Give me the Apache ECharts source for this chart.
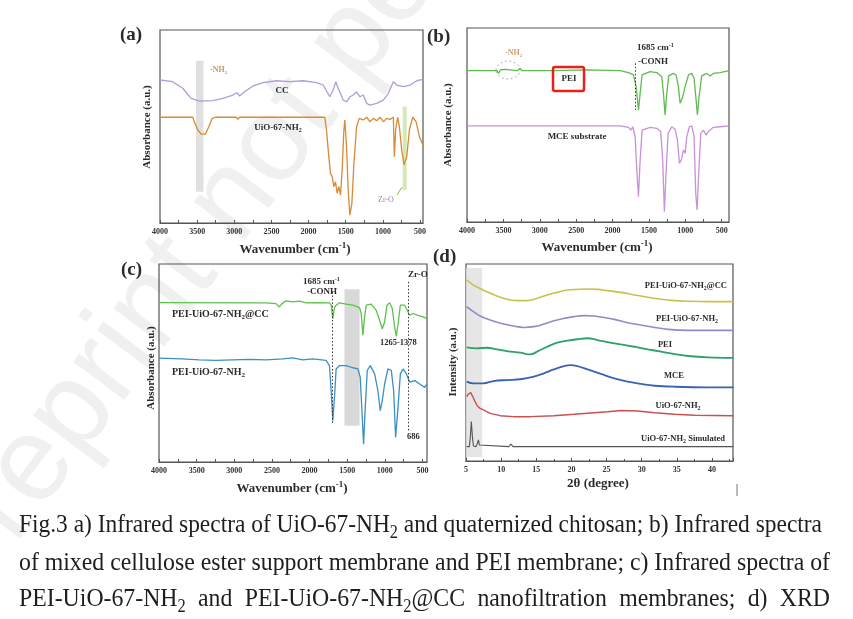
<!DOCTYPE html>
<html>
<head>
<meta charset="utf-8">
<script src="https://cdn.jsdelivr.net/npm/echarts@6/dist/echarts.min.js"></script>
<style>
  html, body { margin: 0; padding: 0; background: #fff; }
  #main { width: 853px; height: 619px; }
</style>
</head>
<body>
<div id="main"></div>
<script>
// ---- data (wavenumber / 2theta, relative intensity) ----
var ccA = [[4000,74.1],[3829,73.2],[3694,69.8],[3582,64.6],[3469,63.2],[3289,63.4],[3154,64.6],[3019,66.3],[2965,67.5],[2929,65.8],[2862,68.0],[2749,71.0],[2614,72.7],[2434,73.7],[2254,73.2],[2074,73.7],[1894,72.7],[1804,71.5],[1714,65.4],[1669,68.9],[1633,73.2],[1602,69.8],[1534,63.7],[1489,62.8],[1444,65.4],[1399,66.3],[1354,68.0],[1309,65.4],[1264,66.3],[1219,62.0],[1174,61.1],[1084,62.0],[994,63.7],[926,67.2],[859,73.2],[814,71.5],[724,70.6],[634,71.5],[544,73.7],[462,74.4]];
var uioA = [[4000,54.8],[3559,54.8],[3537,52.5],[3492,48.2],[3447,46.1],[3388,46.1],[3343,49.9],[3298,54.2],[3244,54.8],[2974,54.8],[2952,53.7],[2929,54.8],[1782,54.8],[1759,48.2],[1728,34.4],[1705,25.7],[1683,24.0],[1660,18.8],[1638,21.4],[1615,15.4],[1593,18.8],[1570,14.5],[1548,27.5],[1525,48.2],[1512,53.4],[1489,39.5],[1467,17.1],[1444,4.1],[1417,10.2],[1390,30.9],[1354,49.9],[1318,54.2],[1264,53.4],[1219,54.8],[1174,52.5],[1129,54.2],[1084,53.0],[1039,54.8],[994,52.5],[949,54.2],[904,53.7],[859,54.8],[846,34.4],[828,48.2],[801,54.8],[778,49.9],[747,37.8],[715,30.1],[679,34.4],[643,48.2],[598,54.8],[553,52.5],[508,44.7],[462,40.4]];

var peiB = [[4000,78.0],[3588,78.0],[3565,76.6],[3543,78.4],[3474,78.7],[3314,78.0],[3268,79.2],[3245,78.0],[2811,78.0],[2353,78.4],[1896,78.0],[1781,77.0],[1713,75.8],[1676,69.8],[1644,57.7],[1621,66.3],[1594,75.8],[1484,77.5],[1392,77.0],[1324,74.9],[1301,66.3],[1278,55.2],[1255,66.3],[1228,75.3],[1164,76.6],[1127,75.8],[1095,69.8],[1072,61.2],[1035,64.6],[1003,69.8],[957,75.8],[912,76.6],[880,74.1],[852,62.9],[834,55.2],[811,64.6],[775,75.3],[706,76.6],[660,75.3],[615,76.6],[523,77.0],[400,78.0]];
var mceB = [[4000,49.5],[2811,49.5],[1896,49.5],[1781,48.8],[1749,47.4],[1722,49.1],[1690,44.0],[1667,26.8],[1644,13.1],[1621,32.0],[1594,47.4],[1484,48.8],[1392,48.3],[1338,46.6],[1311,32.0],[1288,5.3],[1265,25.1],[1237,45.7],[1187,49.1],[1141,47.8],[1109,42.3],[1081,30.2],[1054,32.0],[1026,37.1],[1003,35.4],[980,44.0],[944,49.1],[912,49.5],[880,44.0],[857,14.8],[839,6.2],[816,25.1],[788,45.7],[752,47.4],[715,44.8],[683,46.6],[615,48.8],[523,49.1],[400,49.5]];

var peiCcC = [[4000,80.5],[2579,80.4],[2446,80.0],[2402,78.3],[2366,80.0],[2313,81.4],[2224,80.9],[2135,81.2],[2046,80.4],[1913,80.5],[1736,80.4],[1713,79.2],[1691,72.4],[1669,78.0],[1647,79.2],[1602,80.4],[1514,79.7],[1425,79.2],[1336,78.0],[1314,75.0],[1292,64.0],[1269,73.3],[1247,79.2],[1181,79.7],[1114,76.6],[1070,71.6],[1034,67.3],[1003,70.7],[972,79.2],[936,80.4],[901,77.5],[870,68.2],[848,63.5],[821,70.7],[794,79.2],[737,79.2],[670,74.1],[626,75.0],[559,74.1],[492,73.3],[440,72.4]];
var peiUioC = [[4000,52.5],[3689,52.1],[3467,51.6],[3245,51.3],[3023,51.6],[2801,51.8],[2579,51.6],[2357,52.1],[2224,52.6],[2091,51.6],[1958,52.1],[1780,51.3],[1736,48.7],[1713,36.0],[1691,20.8],[1669,32.7],[1647,47.0],[1602,48.7],[1514,48.7],[1425,47.6],[1358,47.0],[1327,42.8],[1300,22.5],[1283,9.0],[1260,27.6],[1234,46.2],[1194,48.7],[1136,44.5],[1092,36.0],[1061,25.9],[1034,31.0],[1003,39.4],[959,47.0],[914,46.2],[883,36.0],[857,12.4],[825,27.6],[794,44.5],[759,47.0],[714,44.5],[670,40.3],[603,41.1],[537,39.4],[470,37.7],[440,39.4]];

var xrdPeiUioCc = [[5.1,91.9],[6.05,89.3],[7.01,87.6],[7.96,85.9],[9.39,83.8],[10.83,82.1],[12.26,81.4],[13.69,81.4],[15.12,82.6],[16.56,84.3],[17.99,85.6],[19.42,86.8],[20.85,87.1],[22.29,87.3],[23.72,87.1],[25.15,86.5],[27.06,85.6],[28.97,84.3],[30.88,83.1],[32.79,82.1],[34.7,81.4],[36.61,81.1],[39.48,80.9],[43.06,80.9]];
var xrdPeiUio = [[5.1,78.3],[6.05,75.8],[7.01,73.6],[8.44,71.6],[10.35,69.5],[11.78,68.5],[13.21,67.8],[14.65,68.2],[16.08,69.5],[17.51,71.2],[18.94,72.4],[20.38,73.3],[21.81,73.8],[23.24,73.6],[24.68,72.8],[26.11,71.9],[28.02,70.2],[29.93,69.0],[31.84,67.8],[33.75,66.8],[36.61,66.3],[43.06,66.3]];
var xrdPei = [[5.1,57.7],[6.53,57.2],[7.96,57.5],[9.39,56.7],[10.83,55.8],[12.74,55.0],[14.17,54.1],[15.12,55.5],[16.56,58.0],[17.99,60.1],[19.42,61.1],[20.85,61.8],[22.29,62.3],[23.72,61.4],[25.15,60.4],[27.06,59.2],[28.97,58.0],[30.88,56.7],[32.79,55.5],[34.7,54.3],[36.61,53.3],[39.48,52.6],[43.06,52.3]];
var xrdMce = [[5.1,40.3],[6.05,39.4],[7.48,39.4],[8.92,40.6],[10.83,41.1],[12.74,41.5],[14.65,42.8],[16.08,44.5],[17.51,46.5],[18.94,48.2],[19.9,48.7],[20.85,48.2],[22.29,46.5],[24.2,44.2],[26.11,42.0],[28.02,40.3],[29.93,39.1],[31.84,38.2],[34.7,37.7],[39.48,37.4],[43.06,37.4]];
var xrdUio = [[5.1,32.7],[5.33,34.0],[5.67,34.7],[5.96,32.7],[6.29,30.1],[6.62,27.9],[6.81,28.4],[7.01,26.7],[7.48,25.9],[8.44,24.2],[9.87,23.0],[11.78,22.5],[14.17,22.5],[17.51,23.0],[20.38,23.7],[23.24,24.5],[25.15,25.0],[27.06,25.6],[29.45,25.4],[31.84,24.5],[34.7,23.7],[37.57,23.2],[43.06,23.0]];
var xrdSim = [[5.1,7.3],[5.48,7.3],[5.62,12.4],[5.76,20.0],[5.91,12.4],[6.05,7.6],[6.43,7.3],[6.62,9.0],[6.77,10.7],[6.91,8.1],[7.1,7.3],[11.07,7.3],[11.4,8.6],[11.69,7.3],[43.06,7.3]];

var wnLabels = [4000, 3500, 3000, 2500, 2000, 1500, 1000, 500];
var wnTicks = [4000, 3750, 3500, 3250, 3000, 2750, 2500, 2250, 2000, 1750, 1500, 1250, 1000, 750, 500];

var captionLines = [
    'Fig.3 a) Infrared spectra of UiO-67-NH_2 and quaternized chitosan; b) Infrared spectra',
    'of mixed cellulose ester support membrane and PEI membrane; c) Infrared spectra of',
    'PEI-UiO-67-NH_2 and PEI-UiO-67-NH_2@CC nanofiltration membranes; d) XRD'
];

// ---- helpers ----
var SERIF = '"Liberation Serif", "Times New Roman", serif';
var ctx = document.createElement('canvas').getContext('2d');

function fontStr(size, bold) { return (bold ? 'bold ' : '') + size + 'px ' + SERIF; }

// '_x' -> subscript char, '^..^' -> superscript
function parseSegs(str) {
    var segs = [], buf = '', i = 0;
    while (i < str.length) {
        var c = str[i];
        if (c === '_') {
            if (buf) { segs.push({ t: buf, k: 'n' }); buf = ''; }
            segs.push({ t: str[i + 1], k: 'sub' }); i += 2; continue;
        }
        if (c === '^') {
            if (buf) { segs.push({ t: buf, k: 'n' }); buf = ''; }
            var j = str.indexOf('^', i + 1);
            segs.push({ t: str.slice(i + 1, j), k: 'sup' }); i = j + 1; continue;
        }
        buf += c; i++;
    }
    if (buf) segs.push({ t: buf, k: 'n' });
    return segs;
}
function segSize(s, size) { return s.k === 'n' ? size : Math.round(size * 0.68); }
function textWidth(str, size, bold) {
    var w = 0;
    parseSegs(str).forEach(function (s) {
        ctx.font = fontStr(segSize(s, size), bold);
        w += ctx.measureText(s.t).width;
    });
    return w;
}
// left-to-right text with sub/superscripts, y = middle line
function rich(str, x, y, o) {
    var size = o.size || 9, bold = o.bold !== false, color = o.color || '#2b2b2b';
    var sx = o.scaleX || 1;
    var w = textWidth(str, size, bold) * sx;
    var cx = o.align === 'center' ? x - w / 2 : (o.align === 'right' ? x - w : x);
    var els = [];
    parseSegs(str).forEach(function (s) {
        var fs = segSize(s, size);
        var dy = s.k === 'sub' ? size * 0.3 : (s.k === 'sup' ? -size * 0.32 : 0);
        els.push({
            type: 'text', x: cx, y: y + dy, z: 10, scaleX: sx,
            style: { text: s.t, font: fontStr(fs, bold), fill: color,
                     textAlign: 'left', textVerticalAlign: 'middle' }
        });
        ctx.font = fontStr(fs, bold);
        cx += ctx.measureText(s.t).width * sx;
    });
    return els;
}
function vtext(str, x, y, size) {
    return {
        type: 'text', x: x, y: y, rotation: Math.PI / 2, z: 10,
        style: { text: str, font: fontStr(size, true), fill: '#2b2b2b',
                 textAlign: 'center', textVerticalAlign: 'middle' }
    };
}
// justified caption line in a narrow serif
function captionLine(str, x0, x1, y, size, sx) {
    var words = str.split(' ');
    var widths = words.map(function (w) { return textWidth(w, size, false) * sx; });
    var total = widths.reduce(function (a, b) { return a + b; }, 0);
    var gap = (x1 - x0 - total) / (words.length - 1);
    var els = [], x = x0;
    words.forEach(function (w, i) {
        els = els.concat(rich(w, x, y, { size: size, bold: false, color: '#1e1e1e', scaleX: sx }));
        x += widths[i] + gap;
    });
    return els;
}
function fitScale(str, width, size) {
    var words = str.split(' ');
    ctx.font = fontStr(size, false);
    var natural = textWidth(words.join(''), size, false) + (words.length - 1) * ctx.measureText(' ').width;
    return width / natural;
}

// ---- axes ----
var tickFont = { fontSize: 8, fontWeight: 'bold', fontFamily: SERIF, color: '#333', margin: 5,
                 formatter: function (v) { return String(v); } };
function wnAxis(gi, min) {
    return {
        gridIndex: gi, type: 'value', inverse: true, min: min, max: 4000,
        axisLine: { show: true, lineStyle: { color: '#555', width: 1.2 } },
        axisTick: { show: true, inside: true, length: 3, customValues: wnTicks, lineStyle: { color: '#555' } },
        axisLabel: Object.assign({ customValues: wnLabels }, tickFont),
        splitLine: { show: false }
    };
}
function blankY(gi) {
    return { gridIndex: gi, type: 'value', min: 0, max: 100, show: false };
}
function gridBox(left, top, width, height) {
    return { left: left, top: top, width: width, height: height, show: true,
             borderColor: '#555', borderWidth: 1.2, backgroundColor: 'transparent' };
}
function line(name, data, gi, color, extra) {
    return Object.assign({
        name: name, type: 'line', xAxisIndex: gi, yAxisIndex: gi, data: data,
        showSymbol: false, symbol: 'none', silent: true,
        lineStyle: { color: color, width: 1.3 }
    }, extra || {});
}
function band(x0, y0, x1, y1, color) {
    return [{ xAxis: x0, yAxis: y0, itemStyle: { color: color } }, { xAxis: x1, yAxis: y1 }];
}
function dotted(x, y0, y1) {
    return [{ coord: [x, y0] }, { coord: [x, y1] }];
}

var myChart = echarts.init(document.getElementById('main'), null, { renderer: 'canvas' });

var graphics = [];
// faint preprint watermark
graphics.push({
    type: 'text', x: -12, y: 625, rotation: 0.925, z: -5,
    style: { text: 'Preprint not peer reviewed', font: '120px "Liberation Sans", Arial, sans-serif',
             fill: '#f0f0f0', textAlign: 'left', textVerticalAlign: 'bottom' }
});
// panel letters
graphics = graphics.concat(rich('(a)', 120, 35, { size: 19 }), rich('(b)', 427, 37, { size: 19 }),
    rich('(c)', 121, 270, { size: 19 }), rich('(d)', 433, 257, { size: 19 }));
// axis titles
graphics = graphics.concat(
    rich('Wavenumber (cm^-1^)', 295, 250, { size: 13, align: 'center' }),
    rich('Wavenumber (cm^-1^)', 597, 248, { size: 13, align: 'center' }),
    rich('Wavenumber (cm^-1^)', 292, 489, { size: 13, align: 'center' }),
    rich('2\u03b8 (degree)', 598, 484, { size: 13, align: 'center' }));
graphics.push(vtext('Absorbance (a.u.)', 147, 127, 11), vtext('Absorbance (a.u.)', 448, 125, 11),
    vtext('Absorbance (a.u.)', 151, 368, 11), vtext('Intensity (a.u.)', 453, 362, 11));
// (a) annotations
graphics = graphics.concat(
    rich('-NH_2', 210, 70, { size: 8, color: '#c49a6c' }),
    rich('CC', 282, 91, { size: 9, align: 'center' }),
    rich('UiO-67-NH_2', 278, 128, { size: 9, align: 'center' }),
    rich('Zr-O', 378, 200, { size: 8, color: '#a781b8', bold: false }));
graphics.push({ type: 'line', shape: { x1: 397, y1: 195, x2: 402, y2: 187 }, style: { stroke: '#7cc050', lineWidth: 1 }, z: 10 });
// (b) annotations
graphics = graphics.concat(
    rich('-NH_2', 505, 53, { size: 8, color: '#d4a070' }),
    rich('PEI', 569, 79, { size: 9, align: 'center' }),
    rich('1685 cm^-1^', 637, 48, { size: 9 }),
    rich('-CONH', 638, 62, { size: 9 }),
    rich('MCE substrate', 577, 137, { size: 9, align: 'center' }));
graphics.push({ type: 'rect', shape: { x: 553, y: 67, width: 31, height: 24, r: 2 },
    style: { fill: 'none', stroke: '#e8201c', lineWidth: 2.5 }, z: 11 });
graphics.push({ type: 'ellipse', shape: { cx: 508, cy: 70, rx: 12, ry: 9 },
    style: { fill: 'none', stroke: '#888', lineWidth: 0.8, lineDash: [1.5, 3] }, z: 10 });
// (c) annotations
graphics = graphics.concat(
    rich('1685 cm^-1^', 303, 282, { size: 9 }),
    rich('-CONH', 307, 292, { size: 9 }),
    rich('Zr-O', 408, 275, { size: 9 }),
    rich('1265-1378', 380, 343, { size: 8.5 }),
    rich('686', 407, 437, { size: 8.5 }),
    rich('PEI-UiO-67-NH_2@CC', 172, 314, { size: 10 }),
    rich('PEI-UiO-67-NH_2', 172, 372, { size: 10 }));
// (d) annotations
graphics = graphics.concat(
    rich('PEI-UiO-67-NH_2@CC', 727, 286, { size: 8.5, align: 'right' }),
    rich('PEI-UiO-67-NH_2', 718, 319, { size: 8.5, align: 'right' }),
    rich('PEI', 665, 345, { size: 8.5, align: 'center' }),
    rich('MCE', 674, 376, { size: 8.5, align: 'center' }),
    rich('UiO-67-NH_2', 678, 406, { size: 8.5, align: 'center' }),
    rich('UiO-67-NH_2 Simulated', 725, 439, { size: 8.5, align: 'right' }));
graphics.push({ type: 'line', shape: { x1: 737, y1: 484, x2: 737, y2: 496 }, style: { stroke: '#777', lineWidth: 1 } });
// caption: condensed serif, justified
var capSize = 26;
var s1 = fitScale(captionLines[0], 803, capSize);
var s2 = fitScale(captionLines[1], 811, capSize);
graphics = graphics.concat(
    captionLine(captionLines[0], 19, 822, 525, capSize, s1),
    captionLine(captionLines[1], 19, 830, 563, capSize, s2),
    captionLine(captionLines[2], 19, 830, 599, capSize, s2));

var dotStyle = { color: '#333', type: [1.5, 2], width: 1 };

var option = {
    backgroundColor: '#fff',
    animation: false,
    grid: [
        gridBox(160, 30, 263, 193),
        gridBox(467, 28, 262, 194),
        gridBox(159, 264, 268, 198),
        gridBox(466, 264, 267, 197)
    ],
    xAxis: [
        wnAxis(0, 460), wnAxis(1, 400), wnAxis(2, 440),
        {
            gridIndex: 3, type: 'value', min: 5, max: 43, interval: 5,
            axisLine: { show: true, lineStyle: { color: '#555', width: 1.2 } },
            axisTick: { show: true, inside: true, length: 3, lineStyle: { color: '#555' } },
            minorTick: { show: true, splitNumber: 2, length: 2, lineStyle: { color: '#555' } },
            axisLabel: Object.assign({ showMaxLabel: false }, tickFont),
            splitLine: { show: false }
        }
    ],
    yAxis: [blankY(0), blankY(1), blankY(2), blankY(3)],
    series: [
        line('CC', ccA, 0, '#b39bd8', {
            markArea: { silent: true, itemStyle: { opacity: 0.75 },
                data: [band(3515, 84.1, 3415, 16.2, '#d6d6d6'), band(733, 60.3, 679, 17.1, '#c6e39c')] }
        }),
        line('UiO-67-NH2', uioA, 0, '#d88a35'),
        line('PEI', peiB, 1, '#5fbb4f', {
            markLine: { silent: true, symbol: 'none', label: { show: false }, lineStyle: dotStyle,
                data: [dotted(1685, 81.8, 57.7)] }
        }),
        line('MCE substrate', mceB, 1, '#c692d8'),
        line('PEI-UiO-67-NH2@CC', peiCcC, 2, '#5cc24a', {
            markArea: { silent: true, itemStyle: { opacity: 0.85 },
                data: [band(1536, 87.3, 1336, 18.3, '#d2d2d2')] },
            markLine: { silent: true, symbol: 'none', label: { show: false }, lineStyle: dotStyle,
                data: [dotted(1700, 85.9, 19.7), dotted(686, 91, 15)] }
        }),
        line('PEI-UiO-67-NH2', peiUioC, 2, '#3b8ec6'),
        line('PEI-UiO-67-NH2@CC', xrdPeiUioCc, 3, '#c9c24a', {
            smooth: 0.4, lineStyle: { color: '#c9c24a', width: 1.6 },
            markArea: { silent: true, itemStyle: { opacity: 0.8 },
                data: [band(5, 98, 7.3, 2, '#e0e0e0')] }
        }),
        line('PEI-UiO-67-NH2', xrdPeiUio, 3, '#9a87c8', { smooth: 0.4, lineStyle: { color: '#9a87c8', width: 1.6 } }),
        line('PEI', xrdPei, 3, '#2fa06a', { smooth: 0.4, lineStyle: { color: '#2fa06a', width: 1.8 } }),
        line('MCE', xrdMce, 3, '#3a62b5', { smooth: 0.4, lineStyle: { color: '#3a62b5', width: 1.8 } }),
        line('UiO-67-NH2', xrdUio, 3, '#c85050', { lineStyle: { color: '#c85050', width: 1.4 } }),
        line('UiO-67-NH2 Simulated', xrdSim, 3, '#555', { lineStyle: { color: '#555', width: 1.1 } })
    ],
    graphic: { elements: graphics }
};

myChart.setOption(option);
</script>
</body>
</html>
